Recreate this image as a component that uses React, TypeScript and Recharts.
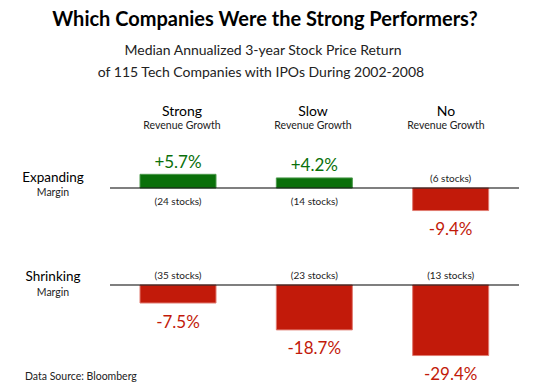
import { BarChart, Bar, XAxis, YAxis, Cell, LabelList, ReferenceLine } from 'recharts';

const columns = ['Strong', 'Slow', 'No'];
const rowNames = ['Expanding', 'Shrinking'];
const expandingReturns = [5.7, 4.2, -9.4];
const shrinkingReturns = [-7.5, -18.7, -29.4];
const expandingStocks = [24, 14, 6];
const shrinkingStocks = [35, 23, 13];

const GREEN = '#0a700a';
const RED = '#c21a0a';
const FONT = 'Lato, "Open Sans", sans-serif';

const buildRows = (returns: number[], stocks: number[]) =>
    columns.map((c, i) => ({
        name: c,
        value: returns[i],
        stocksAbove: returns[i] < 0 ? stocks[i] : null,
        stocksBelow: returns[i] >= 0 ? stocks[i] : null,
    }));

const ValueLabel = (p: any) => {
    const v = Number(p.value);
    const top = Math.min(p.y, p.y + p.height);
    const bottom = Math.max(p.y, p.y + p.height);
    const cx = p.x + p.width / 2;
    return (
        <text x={cx} y={v >= 0 ? top - 13 : bottom + 18} textAnchor="middle" dominantBaseline="central"
            fill={v >= 0 ? GREEN : RED} fontSize={17} fontFamily={FONT}>
            {(v >= 0 ? '+' : '') + v.toFixed(1) + '%'}
        </text>
    );
};

const stocksLabel = (above: boolean) => (p: any) => {
    if (p.value == null) return null;
    const top = Math.min(p.y, p.y + p.height);
    const bottom = Math.max(p.y, p.y + p.height);
    const cx = p.x + p.width / 2;
    return (
        <text x={cx} y={above ? top - 10 : bottom + 13} textAnchor="middle" dominantBaseline="central"
            fill="#222" fontSize={10} fontFamily={FONT}>
            {'(' + p.value + ' stocks)'}
        </text>
    );
};

// baseline sits at top + domain[1] * 2.4px
function Row({ data, top, height, domain }: { data: any[]; top: number; height: number; domain: number[] }) {
    return (
        <div style={{ position: 'absolute', left: 110, top }}>
            <BarChart width={409} height={height} data={data} margin={{ top: 0, right: 0, bottom: 0, left: 0 }}
                style={{ overflow: 'visible' }}>
                <XAxis dataKey="name" hide />
                <YAxis hide domain={domain} allowDataOverflow />
                <Bar dataKey="value" barSize={76} isAnimationActive={false}>
                    {data.map((d, i) => (
                        <Cell key={i} fill={d.value >= 0 ? GREEN : RED} stroke={d.value >= 0 ? '#4c9a4c' : '#e07a70'} strokeWidth={1} />
                    ))}
                    <LabelList dataKey="value" content={ValueLabel} />
                    <LabelList dataKey="stocksAbove" content={stocksLabel(true)} />
                    <LabelList dataKey="stocksBelow" content={stocksLabel(false)} />
                </Bar>
                <ReferenceLine y={0} stroke="#000" strokeWidth={1.2} />
            </BarChart>
        </div>
    );
}

function Txt({ cx, cy, size, children, weight, color, left }: any) {
    return (
        <div style={{
            position: 'absolute', left: left !== undefined ? left : cx - 250, width: left !== undefined ? 300 : 500,
            top: cy - size, height: size * 2, lineHeight: size * 2 + 'px', fontSize: size,
            textAlign: left !== undefined ? 'left' : 'center', fontWeight: weight || 400, color: color || '#000',
            fontFamily: FONT, whiteSpace: 'nowrap',
        }}>{children}</div>
    );
}

export default function App() {
    const colCenters = [182, 313, 446];
    return (
        <div style={{ position: 'absolute', left: 0, top: 0, width: 539, height: 390, background: '#fff', overflow: 'hidden' }}>
            <Txt cx={265} cy={18} size={20} weight={700}>Which Companies Were the Strong Performers?</Txt>
            <Txt cx={263} cy={50} size={14} color="#222">Median Annualized 3-year Stock Price Return</Txt>
            <Txt cx={261} cy={72} size={14} color="#222">of 115 Tech Companies with IPOs During 2002-2008</Txt>
            {columns.map((c, i) => (
                <div key={c}>
                    <Txt cx={colCenters[i]} cy={111} size={14}>{c}</Txt>
                    <Txt cx={colCenters[i]} cy={125} size={10.5} color="#222">Revenue Growth</Txt>
                </div>
            ))}
            <Txt cx={53} cy={177} size={13.5}>{rowNames[0]}</Txt>
            <Txt cx={53} cy={192} size={10.5} color="#222">Margin</Txt>
            <Txt cx={53} cy={276} size={13.5}>{rowNames[1]}</Txt>
            <Txt cx={53} cy={292} size={10.5} color="#222">Margin</Txt>
            <Row data={buildRows(expandingReturns, expandingStocks)} top={140} height={108} domain={[-25, 20]} />
            <Row data={buildRows(shrinkingReturns, shrinkingStocks)} top={261} height={129} domain={[-43.75, 10]} />
            <Txt left={25} cy={376} size={10.5} color="#222">Data Source: Bloomberg</Txt>
        </div>
    );
}
